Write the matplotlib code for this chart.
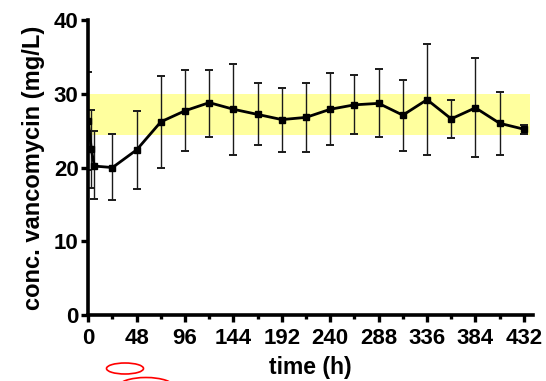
import matplotlib
matplotlib.use('Agg')
import matplotlib.pyplot as plt
from matplotlib.patches import Ellipse
from matplotlib.ticker import MultipleLocator
import numpy as np

plt.rcParams['font.family'] = ['Liberation Sans', 'DejaVu Sans']
plt.rcParams['font.weight'] = 'bold'

# sampling times (h) and vancomycin concentration (mg/L)
time_h = [0, 3, 6, 24, 48, 72, 96, 120, 144, 168, 192, 216, 240,
          264, 288, 312, 336, 360, 384, 408, 432]
conc_mean = [26.3, 22.5, 20.2, 20.0, 22.4, 26.2, 27.7, 28.8, 27.9, 27.2, 26.5,
             26.8, 27.9, 28.5, 28.7, 27.1, 29.2, 26.6, 28.1, 26.0, 25.2]
conc_upper = [32.9, 27.8, 24.9, 24.6, 27.6, 32.4, 33.2, 33.2, 34.1, 31.4, 30.8,
              31.5, 32.8, 32.6, 33.3, 31.9, 36.7, 29.2, 34.8, 30.2, 25.7]
conc_lower = [19.7, 17.2, 15.8, 15.6, 17.1, 20.0, 22.2, 24.2, 21.7, 23.05, 22.1,
              22.05, 23.05, 24.5, 24.2, 22.3, 21.7, 24.0, 21.4, 21.7, 24.6]

# therapeutic target range
target_low, target_high = 24.4, 30.0

x_ticks = [0, 48, 96, 144, 192, 240, 288, 336, 384, 432]
y_ticks = [0, 10, 20, 30, 40]


def plot_conc():
    fig = plt.figure(figsize=(5.46, 3.81), dpi=100)
    ax = fig.add_axes([0.1617, 0.173, 0.8143, 0.7745])

    ax.axhspan(target_low, target_high, xmin=0, xmax=438 / 441,
               color='#ffff9e', lw=0, zorder=0)

    mean = np.array(conc_mean)
    yerr = [mean - np.array(conc_lower), np.array(conc_upper) - mean]
    ax.errorbar(time_h, mean, yerr=yerr, fmt='none', ecolor='#1a1a1a',
                elinewidth=1.0, capsize=3.2, capthick=1.4, zorder=2)
    ax.plot(time_h, mean, color='black', lw=2.0, marker='s',
            markersize=4.5, zorder=3)

    ax.set_xlim(0, 441)
    ax.set_ylim(0, 40)
    ax.set_xticks(x_ticks)
    ax.xaxis.set_minor_locator(MultipleLocator(24))
    ax.set_yticks(y_ticks)

    for s in ['top', 'right']:
        ax.spines[s].set_visible(False)
    for s in ['left', 'bottom']:
        ax.spines[s].set_linewidth(2.6)
    ax.spines['left'].set_zorder(4)

    ax.tick_params(axis='both', which='major', direction='out', length=5,
                   width=2.4, labelsize=16, pad=2)
    ax.tick_params(axis='x', which='major', pad=4)
    ax.tick_params(axis='x', which='minor', direction='out', length=3,
                   width=2.4)
    for lab in ax.get_xticklabels() + ax.get_yticklabels():
        lab.set_fontweight('bold')

    ax.set_xlabel('time (h)', fontsize=16.5, fontweight='bold', labelpad=5.5)
    ax.set_ylabel('conc. vancomycin (mg/L)', fontsize=17,
                  fontweight='bold', labelpad=6)

    # red hand-drawn marks below the axis
    fig.patches.append(Ellipse((125 / 546, 1 - 368.5 / 381), 37 / 546,
                               11 / 381, transform=fig.transFigure,
                               fill=False, ec='red', lw=1.2))
    fig.patches.append(Ellipse((146 / 546, 1 - 387 / 381), 56 / 546,
                               19 / 381, transform=fig.transFigure,
                               fill=False, ec='red', lw=1.2))

    fig.savefig('out.png', dpi=100)


def main():
    plot_conc()


if __name__ == '__main__':
    main()
